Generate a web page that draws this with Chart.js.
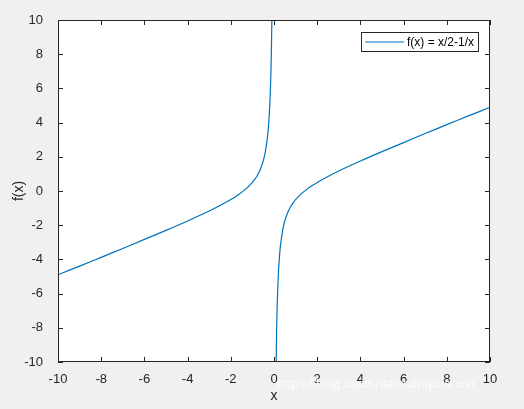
<!DOCTYPE html>
<html>
<head>
<meta charset="utf-8">
<script src="https://cdn.jsdelivr.net/npm/chart.js@4/dist/chart.umd.min.js"></script>
<style>
  html, body { margin: 0; padding: 0; background: #f0f0f0; }
  #wrap { width: 524px; height: 409px; }
</style>
</head>
<body>
<div id="wrap"><canvas id="grafica" width="524" height="409"></canvas></div>
<script>
// valores, rama izquierda y rama derecha
const xIzq = [-10, -9, -8, -7, -6, -5, -4, -3, -2.5, -2, -1.75, -1.5, -1.25, -1, -0.9, -0.8, -0.7, -0.6, -0.5, -0.4, -0.3, -0.25, -0.2, -0.15, -0.12, -0.1];
const yIzq = [-4.9, -4.39, -3.88, -3.36, -2.83, -2.3, -1.75, -1.17, -0.85, -0.5, -0.3, -0.08, 0.18, 0.5, 0.66, 0.85, 1.08, 1.37, 1.75, 2.3, 3.18, 3.88, 4.9, 6.59, 8.27, 9.95];
const xDer = [0.1, 0.12, 0.15, 0.2, 0.25, 0.3, 0.4, 0.5, 0.6, 0.7, 0.8, 0.9, 1, 1.25, 1.5, 1.75, 2, 2.5, 3, 4, 5, 6, 7, 8, 9, 10];
const yDer = [-9.95, -8.27, -6.59, -4.9, -3.88, -3.18, -2.3, -1.75, -1.37, -1.08, -0.85, -0.66, -0.5, -0.18, 0.08, 0.3, 0.5, 0.85, 1.17, 1.75, 2.3, 2.83, 3.36, 3.88, 4.39, 4.9];
const marcas = [-10, -8, -6, -4, -2, 0, 2, 4, 6, 8, 10];
const leyenda = 'f(x) = x/2-1/x';

const puntos = xIzq.map((x, i) => ({ x: x, y: yIzq[i] }))
    .concat([{ x: 0, y: null }])
    .concat(xDer.map((x, i) => ({ x: x, y: yDer[i] })));

const familia = 'Liberation Sans, Arial, sans-serif';
const fuente = { family: familia, size: 13 };

// caja con marcas hacia dentro, leyenda y marca de agua
const estiloMatlab = {
    id: 'estiloMatlab',
    beforeDraw(chart) {
        const a = chart.chartArea, c = chart.ctx;
        c.save();
        c.fillStyle = '#ffffff';
        c.fillRect(a.left, a.top, a.right - a.left, a.bottom - a.top);
        c.restore();
    },
    afterDraw(chart) {
        const a = chart.chartArea, c = chart.ctx;
        const sx = chart.scales.x, sy = chart.scales.y;
        c.save();
        c.strokeStyle = '#262626';
        c.lineWidth = 1;
        c.strokeRect(a.left + 0.5, a.top + 0.5, a.right - a.left - 1, a.bottom - a.top - 1);
        c.beginPath();
        marcas.forEach(v => {
            const px = Math.round(sx.getPixelForValue(v)) + 0.5;
            c.moveTo(px, a.bottom); c.lineTo(px, a.bottom - 5);
            c.moveTo(px, a.top); c.lineTo(px, a.top + 5);
            const py = Math.round(sy.getPixelForValue(v)) + 0.5;
            c.moveTo(a.left, py); c.lineTo(a.left + 5, py);
            c.moveTo(a.right, py); c.lineTo(a.right - 5, py);
        });
        c.stroke();

        // leyenda
        const ds = chart.data.datasets[0];
        c.font = '12px ' + familia;
        const ancho = Math.round(c.measureText(leyenda).width + 50);
        const bx = Math.round(a.right - 12 - ancho), by = Math.round(a.top + 12);
        c.fillStyle = '#ffffff';
        c.fillRect(bx, by, ancho, 19);
        c.strokeStyle = '#262626';
        c.strokeRect(bx + 0.5, by + 0.5, ancho, 19);
        c.strokeStyle = ds.borderColor;
        c.lineWidth = ds.borderWidth;
        c.beginPath();
        c.moveTo(bx + 4, by + 10); c.lineTo(bx + 43, by + 10);
        c.stroke();
        c.fillStyle = '#000000';
        c.textAlign = 'left';
        c.textBaseline = 'middle';
        c.fillText(leyenda, bx + 46, by + 10.5);

        c.font = '13px ' + familia;
        c.fillStyle = 'rgba(255,255,255,0.85)';
        c.fillText('https://blog.csdn.net/csdnqixiaoxin', 277, 384);
        c.restore();
    }
};

new Chart(document.querySelector('#grafica'), {
    type: 'scatter',
    data: {
        datasets: [{
            label: leyenda,
            data: puntos,
            showLine: true,
            spanGaps: false,
            borderColor: '#0072BD',
            backgroundColor: '#0072BD',
            borderWidth: 1.2,
            pointRadius: 0,
            tension: 0.3,
        }]
    },
    options: {
        responsive: false,
        animation: false,
        layout: { padding: { left: 0, top: 20, right: 34, bottom: 0 } },
        scales: {
            x: {
                type: 'linear', min: -10, max: 10,
                afterBuildTicks: s => { s.ticks = marcas.map(v => ({ value: v })); },
                grid: { display: false },
                border: { display: false },
                ticks: { color: '#262626', font: fuente, padding: 2 },
                title: { display: true, text: 'x', color: '#262626', font: { family: familia, size: 14 }, padding: { top: 0, bottom: 4 } },
                afterFit: s => { s.height = 47; }
            },
            y: {
                type: 'linear', min: -10, max: 10,
                afterBuildTicks: s => { s.ticks = marcas.map(v => ({ value: v })); },
                grid: { display: false },
                border: { display: false },
                ticks: { color: '#262626', font: fuente, padding: 7 },
                title: { display: true, text: 'f(x)', color: '#262626', font: { family: familia, size: 14 }, padding: { top: 11, bottom: 0 } },
                afterFit: s => { s.width = 58; }
            }
        },
        plugins: {
            legend: { display: false },
            tooltip: { enabled: false }
        }
    },
    plugins: [estiloMatlab]
});
</script>
</body>
</html>
